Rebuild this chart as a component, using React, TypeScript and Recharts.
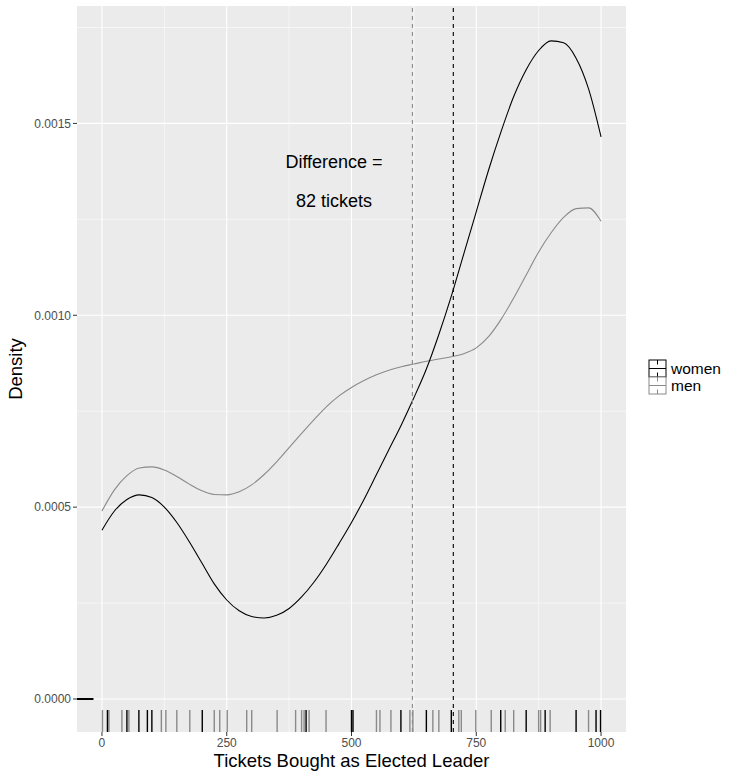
import React from 'react';
import { ComposedChart, Line, Scatter, XAxis, YAxis, ReferenceLine, ReferenceArea, ReferenceDot } from 'recharts';

const W = 739;
const H = 773;

const xTicks = [0, 250, 500, 750, 1000];
const xMinor = [125, 375, 625, 875];
const yTicks = [0, 0.0005, 0.001, 0.0015];
const yMinor = [0.00025, 0.00075, 0.00125, 0.00175];
const X_DOMAIN = [-50, 1050];
const Y_DOMAIN = [-0.000086, 0.001806];

// density grid
const densityX = [
  0, 25, 50, 75, 100, 125, 150, 175, 200, 225, 250, 275, 300, 325, 350, 375, 400, 425, 450, 475, 500,
  525, 550, 575, 600, 625, 650, 675, 700, 725, 750, 775, 800, 825, 850, 875, 900, 925, 950, 975, 1000,
];
const womenDensity = [
  0.00044, 0.00049, 0.00052, 0.000532, 0.000525, 0.0005, 0.00046, 0.00041, 0.000355, 0.0003, 0.000258,
  0.00023, 0.000215, 0.000211, 0.000218, 0.000236, 0.000266, 0.000305, 0.000352, 0.000405, 0.00046,
  0.00052, 0.000585, 0.00065, 0.000715, 0.000785, 0.00086, 0.00095, 0.00105, 0.00116, 0.00127,
  0.00138, 0.00148, 0.00157, 0.00164, 0.00169, 0.001715, 0.00171, 0.00167, 0.00159, 0.001465,
];
const menDensity = [
  0.00049, 0.000545, 0.000582, 0.000602, 0.000605, 0.000597, 0.00058, 0.00056, 0.000543, 0.000533,
  0.000532, 0.00054, 0.000558, 0.000585, 0.000618, 0.000655, 0.000692, 0.000728, 0.000762, 0.00079,
  0.000812, 0.00083, 0.000845, 0.000857, 0.000866, 0.000873, 0.00088, 0.000886, 0.000892, 0.0009,
  0.000915, 0.000945, 0.00099, 0.001045, 0.001105, 0.001165, 0.001215, 0.001255, 0.001278, 0.00128,
  0.001245,
];

// individual observations (rug)
const womenTickets = [11, 50, 74, 91, 100, 201, 409, 500, 503, 599, 650, 700, 799, 850, 888, 950, 990, 999];
const menTickets = [
  1, 14, 40, 54, 119, 128, 150, 176, 225, 236, 251, 290, 300, 351, 388, 400, 405, 415, 449, 550, 557,
  579, 617, 623, 663, 675, 715, 720, 749, 780, 808, 825, 875, 879, 898, 975,
];

const womenMean = 704;
const menMean = 622;

const groups = ['women', 'men'];
const BLACK = '#000000';
const GREY = '#8a8a8a';

const womenLine = densityX.map((x, i) => ({ x, y: womenDensity[i] }));
const menLine = densityX.map((x, i) => ({ x, y: menDensity[i] }));
const womenRug = womenTickets.map((x) => ({ x, y: Y_DOMAIN[0] }));
const menRug = menTickets.map((x) => ({ x, y: Y_DOMAIN[0] }));

const rugShape = (color: string) => (props: any) => (
  <line x1={props.cx} x2={props.cx} y1={props.cy} y2={props.cy - 22} stroke={color} strokeWidth={1.4} />
);

const font = 'Liberation Sans, Arial, sans-serif';

const LegendKey = ({ y, color, label }: { y: number; color: string; label: string }) => (
  <g>
    <rect x={649} y={y} width={17} height={17} fill="#fff" stroke={color} strokeWidth={1} />
    <line x1={649} x2={666} y1={y + 8.5} y2={y + 8.5} stroke={color} strokeWidth={1} />
    <line x1={657.5} x2={657.5} y1={y} y2={y + 4.5} stroke={color} strokeWidth={1} />
    <line x1={657.5} x2={657.5} y1={y + 12.5} y2={y + 17} stroke={color} strokeWidth={1} />
    <text x={671} y={y + 14} fontSize={15.5} fill="#000" fontFamily={font}>
      {label}
    </text>
  </g>
);

export default function App() {
  return (
    <div style={{ position: 'absolute', left: 0, top: 0, width: W, height: H, fontFamily: font, background: '#fff' }}>
      <ComposedChart width={W} height={H} margin={{ top: 6, right: 113, bottom: 0, left: 0 }}>
        <XAxis
          dataKey="x"
          type="number"
          domain={X_DOMAIN}
          ticks={xTicks}
          allowDataOverflow
          axisLine={false}
          tickLine={{ stroke: '#333333' }}
          tickSize={4}
          tick={{ fill: '#4D4D4D', fontSize: 12, fontFamily: font }}
          height={41}
          label={{ value: 'Tickets Bought as Elected Leader', position: 'insideBottom', offset: 6, fill: '#000', fontSize: 18.5, fontFamily: font }}
        />
        <YAxis
          dataKey="y"
          type="number"
          domain={Y_DOMAIN}
          ticks={yTicks}
          allowDataOverflow
          axisLine={false}
          tickLine={{ stroke: '#333333' }}
          tickSize={4}
          tickFormatter={(v: number) => v.toFixed(4)}
          tick={{ fill: '#4D4D4D', fontSize: 12, fontFamily: font }}
          width={77}
          label={{ value: 'Density', angle: -90, position: 'insideLeft', offset: 15, fill: '#000', fontSize: 18.5, fontFamily: font, style: { textAnchor: 'middle' } }}
        />
        <ReferenceArea x1={X_DOMAIN[0]} x2={X_DOMAIN[1]} y1={Y_DOMAIN[0]} y2={Y_DOMAIN[1]} fill="#EBEBEB" fillOpacity={1} stroke="none" />
        {xMinor.map((v) => (
          <ReferenceLine key={`xm${v}`} x={v} stroke="#fff" strokeWidth={0.55} />
        ))}
        {yMinor.map((v) => (
          <ReferenceLine key={`ym${v}`} y={v} stroke="#fff" strokeWidth={0.55} />
        ))}
        {xTicks.map((v) => (
          <ReferenceLine key={`x${v}`} x={v} stroke="#fff" strokeWidth={1.1} />
        ))}
        {yTicks.map((v) => (
          <ReferenceLine key={`y${v}`} y={v} stroke="#fff" strokeWidth={1.1} />
        ))}
        <Line data={menLine} dataKey="y" type="monotone" stroke={GREY} strokeWidth={1.1} dot={false} isAnimationActive={false} />
        <Line data={womenLine} dataKey="y" type="monotone" stroke={BLACK} strokeWidth={1.1} dot={false} isAnimationActive={false} />
        <ReferenceLine x={menMean} stroke={GREY} strokeDasharray="4 4" strokeWidth={1.1} />
        <ReferenceLine x={womenMean} stroke={BLACK} strokeDasharray="4 4" strokeWidth={1.1} />
        <Scatter data={menRug} dataKey="y" shape={rugShape(GREY)} isAnimationActive={false} />
        <Scatter data={womenRug} dataKey="y" shape={rugShape(BLACK)} isAnimationActive={false} />
        <ReferenceLine
          segment={[{ x: X_DOMAIN[0], y: 0 }, { x: X_DOMAIN[0] + 33, y: 0 }]}
          stroke={BLACK}
          strokeWidth={2}
          ifOverflow="visible"
        />
        <ReferenceDot
          x={465}
          y={0.0014}
          r={1}
          fill="none"
          stroke="none"
          label={{ value: 'Difference =', position: 'center', fill: '#000', fontSize: 18, fontFamily: font }}
        />
        <ReferenceDot
          x={465}
          y={0.0013}
          r={1}
          fill="none"
          stroke="none"
          label={{ value: `${womenMean - menMean} tickets`, position: 'center', fill: '#000', fontSize: 18, fontFamily: font }}
        />
      </ComposedChart>
      <svg width={W} height={H} style={{ position: 'absolute', left: 0, top: 0, pointerEvents: 'none' }}>
        <LegendKey y={360} color={BLACK} label={groups[0]} />
        <LegendKey y={377} color={GREY} label={groups[1]} />
      </svg>
    </div>
  );
}
